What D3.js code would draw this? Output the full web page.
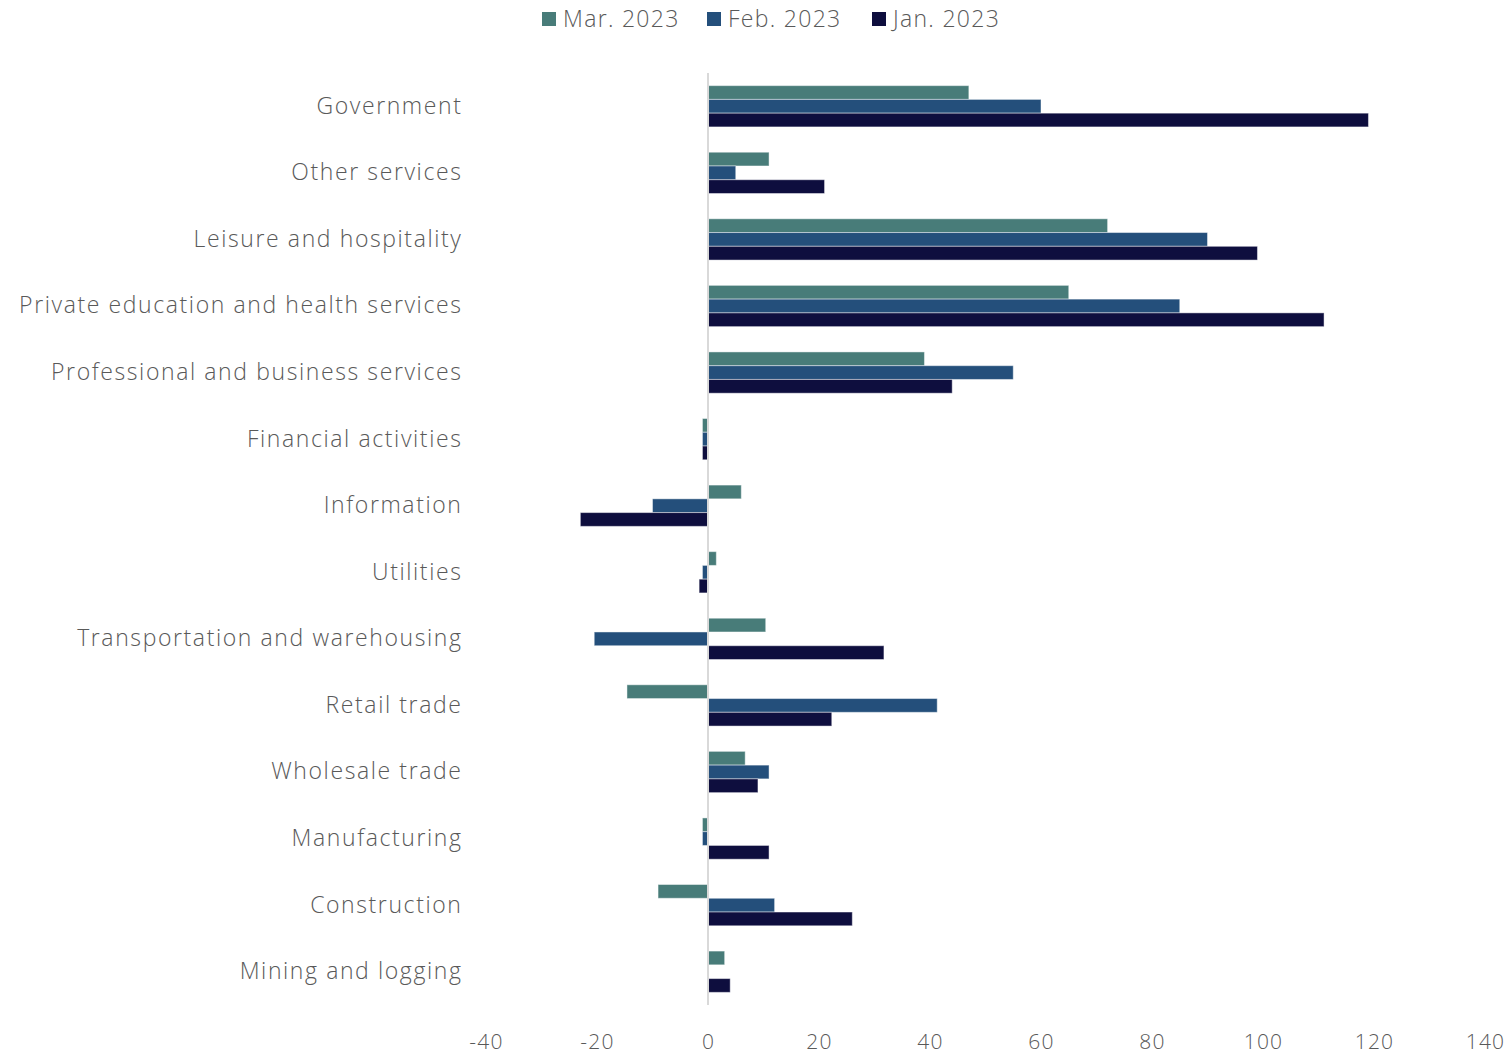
<!DOCTYPE html>
<html>
<head>
<meta charset="utf-8">
<script src="https://cdn.jsdelivr.net/npm/d3@7"></script>
<style>
  html, body { margin: 0; padding: 0; background: #fff; }
  svg { display: block; }
  text { font-family: "Open Sans", "Lato", sans-serif; font-weight: 300; fill: #595959; }
</style>
</head>
<body>
<svg id="chart" width="1511" height="1055"></svg>
<script>
// Employment change by industry (thousands), top to bottom
const categories = [
  "Government",
  "Other services",
  "Leisure and hospitality",
  "Private education and health services",
  "Professional and business services",
  "Financial activities",
  "Information",
  "Utilities",
  "Transportation and warehousing",
  "Retail trade",
  "Wholesale trade",
  "Manufacturing",
  "Construction",
  "Mining and logging"
];
const seriesNames = ["Mar. 2023", "Feb. 2023", "Jan. 2023"];
const mar2023 = [47, 11, 72, 65, 39, -1, 6, 1.5, 10.4, -14.6, 6.7, -1, -9, 3];
const feb2023 = [60, 5, 90, 85, 55, -1, -10, -1, -20.5, 41.3, 11, -1, 12, 0];
const jan2023 = [119, 21, 99, 111, 44, -1, -23, -1.6, 31.7, 22.3, 9, 11, 26, 4];
const xTicks = [-40, -20, 0, 20, 40, 60, 80, 100, 120, 140];
const colors = ["#487c79", "#244f7b", "#0e0e3e"];

const series = [mar2023, feb2023, jan2023];

const svg = d3.select("#chart");

const x = d3.scaleLinear().domain([-40, 140]).range([486, 1485]);
const y = d3.scaleBand().domain(categories).range([73, 1005]).paddingInner(0.38).paddingOuter(0.19);
const inner = d3.scaleBand().domain(seriesNames).range([0, y.bandwidth()]);

// Bars, one group per industry
categories.forEach((cat, i) => {
  const g = svg.append("g").attr("transform", `translate(0,${y(cat)})`);
  series.forEach((vals, s) => {
    const v = vals[i];
    if (v === 0) return;
    g.append("rect")
      .attr("x", x(Math.min(0, v)))
      .attr("y", inner(seriesNames[s]))
      .attr("width", Math.abs(x(v) - x(0)))
      .attr("height", inner.bandwidth())
      .attr("fill", colors[s])
      .attr("stroke", "#ffffff")
      .attr("stroke-opacity", 0.45)
      .attr("stroke-width", 1);
  });
});

// Zero line
svg.append("line")
  .attr("x1", x(0)).attr("x2", x(0))
  .attr("y1", 73).attr("y2", 1005)
  .attr("stroke", "#d9d9d9").attr("stroke-width", 2);

// Category labels
const yAxis = d3.axisLeft(y).tickSize(0).tickPadding(0);
const yg = svg.append("g").attr("transform", "translate(462.5,0)").call(yAxis);
yg.select(".domain").remove();
yg.selectAll("text")
  .attr("font-size", 23)
  .style("letter-spacing", "1.6px");

// Value axis labels
const xAxis = d3.axisBottom(x).tickValues(xTicks).tickSize(0).tickPadding(0)
  .tickFormat(d => String(d));
const xg = svg.append("g").attr("transform", "translate(0,1049)").call(xAxis);
xg.select(".domain").remove();
xg.selectAll("text").attr("font-size", 21).attr("dy", "0").style("letter-spacing", "1.2px");

svg.selectAll(".tick text").attr("fill", "#595959");
d3.selectAll("g").attr("font-family", null);

// Legend
const legendX = [542, 707, 872];
const legend = svg.append("g");
seriesNames.forEach((name, s) => {
  legend.append("rect")
    .attr("x", legendX[s]).attr("y", 12)
    .attr("width", 14).attr("height", 14)
    .attr("fill", colors[s]);
  legend.append("text")
    .attr("x", legendX[s] + 21).attr("y", 19)
    .attr("dy", "0.35em")
    .attr("font-size", 23)
    .style("letter-spacing", "1.3px")
    .text(name);
});
</script>
</body>
</html>
